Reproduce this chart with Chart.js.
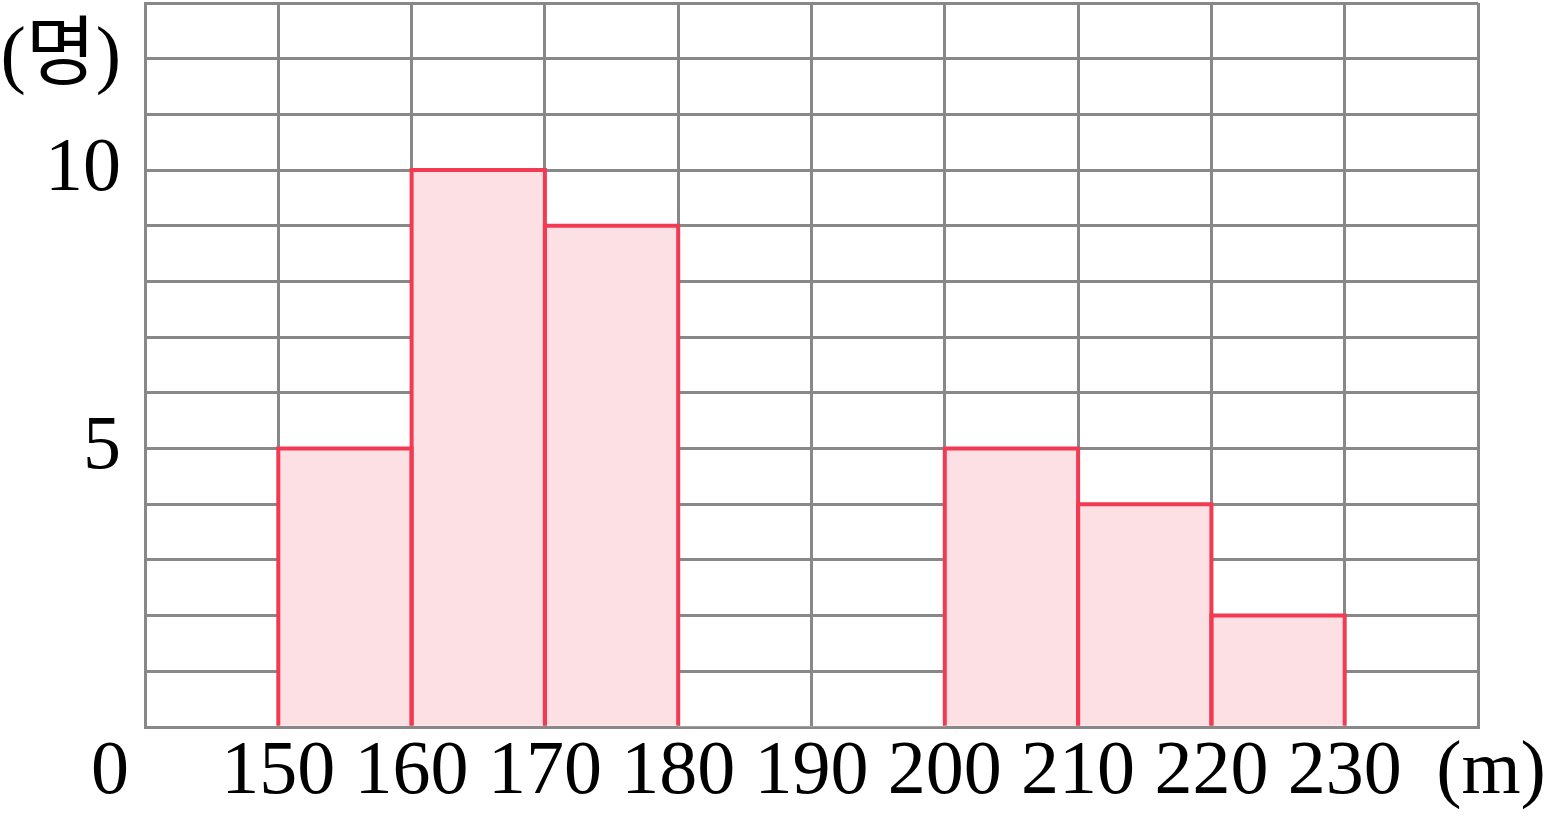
<!DOCTYPE html>
<html><head><meta charset="utf-8">
<script src="https://cdn.jsdelivr.net/npm/chart.js@4"></script>
<style>html,body{margin:0;padding:0;background:#fff;overflow:hidden}#wrap{width:1548px;height:825px;}</style>
</head><body><div id="wrap"><canvas id="c" width="1548" height="825"></canvas></div>
<script>
// ---- data ----
const binStarts = [150, 160, 170, 180, 190, 200, 210, 220];
const binWidth = 10;
const counts = [5, 10, 9, 0, 0, 5, 4, 2];
const xTickLabels = ['150', '160', '170', '180', '190', '200', '210', '220', '230'];
const yTickLabels = { 5: '5', 10: '10', 12: '(명)' };
const xUnitLabel = '(m)';
const originLabel = '0';
const xMin = 140, xMax = 240, yMax = 13;

// ---- styles ----
const GRID = '#888888';
const RED = '#f23a53';
const FILL = '#fde0e4';
const FONT_FAMILY = '"Liberation Serif", "Noto Sans CJK KR", serif';
const FONT_SIZE = 76;

const barData = binStarts.map((s, i) => ({ x: s + binWidth / 2, y: counts[i] }));

const outlinePlugin = {
  id: 'outline',
  afterDatasetsDraw(chart) {
    const ctx = chart.ctx;
    const meta = chart.getDatasetMeta(0);
    ctx.save();
    ctx.strokeStyle = RED;
    ctx.lineWidth = 4;
    ctx.lineJoin = 'miter';
    meta.data.forEach((bar, i) => {
      if (!counts[i]) return;
      const p = bar.getProps(['x', 'y', 'base', 'width'], true);
      const l = p.x - p.width / 2, r = p.x + p.width / 2;
      ctx.beginPath();
      ctx.moveTo(l, p.base);
      ctx.lineTo(l, p.y);
      ctx.lineTo(r, p.y);
      ctx.lineTo(r, p.base);
      ctx.stroke();
    });
    ctx.restore();
  }
};

const extraTextPlugin = {
  id: 'extraText',
  afterDraw(chart) {
    const ctx = chart.ctx;
    const xs = chart.scales.x;
    const lh = FONT_SIZE * 1.2;
    const y = xs.top + xs.options.ticks.padding + lh / 2;
    ctx.save();
    ctx.font = FONT_SIZE + 'px ' + FONT_FAMILY;
    ctx.fillStyle = '#000';
    ctx.textAlign = 'center';
    ctx.textBaseline = 'middle';
    ctx.fillText(originLabel, xs.left - 35, y);
    ctx.fillText(xUnitLabel, xs.right + 13, y);
    ctx.restore();
  }
};

new Chart(document.getElementById('c'), {
  type: 'bar',
  data: {
    datasets: [{
      data: barData,
      backgroundColor: FILL,
      borderWidth: 0,
      barPercentage: 1,
      categoryPercentage: 1
    }]
  },
  options: {
    responsive: false,
    animation: false,
    devicePixelRatio: 1,
    layout: { padding: { top: 3, right: 70, left: 0, bottom: 0 } },
    plugins: { legend: { display: false }, tooltip: { enabled: false } },
    scales: {
      x: {
        type: 'linear',
        min: xMin, max: xMax,
        offset: false,
        afterFit(s) { s.height = 98; s.paddingLeft = 0; s.paddingRight = 0; },
        afterBuildTicks(s) {
          const t = [];
          for (let v = xMin; v <= xMax; v += binWidth) t.push({ value: v });
          s.ticks = t;
        },
        ticks: {
          padding: 0,
          autoSkip: false,
          maxRotation: 0,
          color: '#000',
          font: { family: FONT_FAMILY, size: FONT_SIZE },
          callback: (v) => { const lbl = xTickLabels.find(l => Number(l) === v); return lbl || ''; }
        },
        grid: { color: GRID, lineWidth: 3, drawTicks: false, offset: false },
        border: { color: GRID, width: 3 }
      },
      y: {
        min: 0, max: yMax,
        afterFit(s) { s.width = 145; s.paddingTop = 0; s.paddingBottom = 0; },
        ticks: {
          stepSize: 1,
          padding: 24,
          autoSkip: false,
          color: '#000',
          font: { family: FONT_FAMILY, size: FONT_SIZE },
          callback: (v) => yTickLabels[v] || ''
        },
        grid: { color: GRID, lineWidth: 3, drawTicks: false },
        border: { color: GRID, width: 3 }
      }
    }
  },
  plugins: [outlinePlugin, extraTextPlugin]
});
</script>
</body></html>
